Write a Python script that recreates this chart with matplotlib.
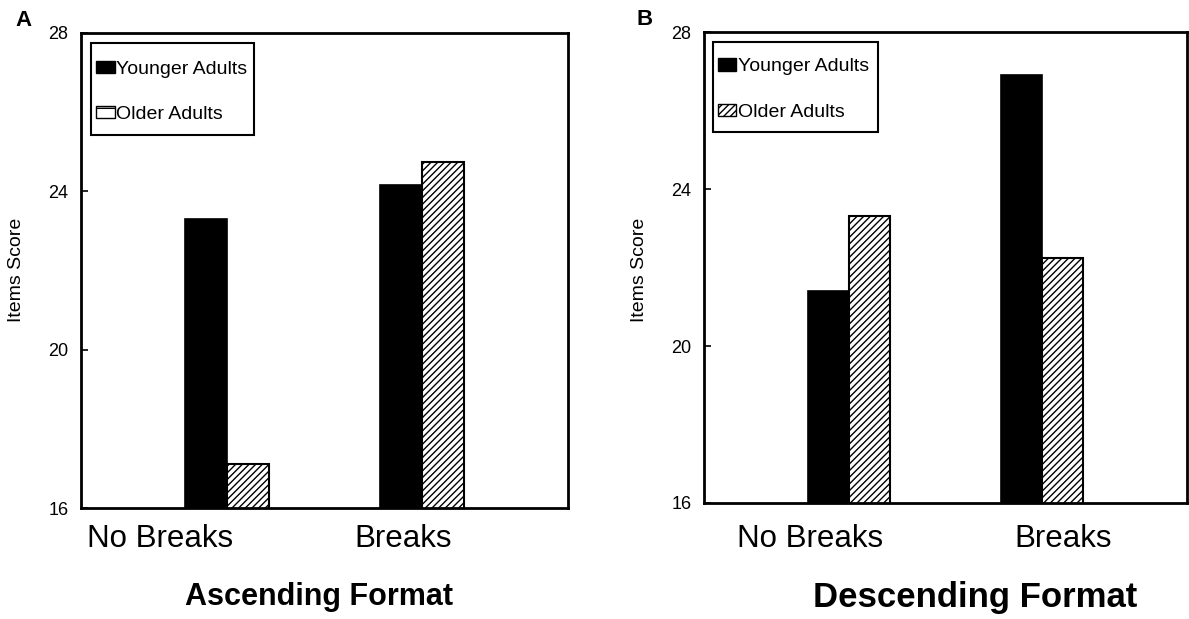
import matplotlib
matplotlib.use("Agg")
import matplotlib.pyplot as plt
from matplotlib.patches import Patch, Rectangle
import numpy as np

plt.rcParams['font.family'] = ['Liberation Sans', 'DejaVu Sans']
plt.rcParams['hatch.linewidth'] = 1.0

# ---- data ----
conditions = ['No Breaks', 'Breaks']
series_names = ['Younger Adults', 'Older Adults']
asc_young = [23.3, 24.15]
asc_older = [17.1, 24.75]
desc_young = [21.4, 26.9]
desc_older = [23.3, 22.25]

y_ticks = [16, 20, 24, 28]

fig = plt.figure(figsize=(11.89, 6.19), dpi=100)
fig.patch.set_facecolor('white')

ax_a = fig.add_axes([0.0681, 0.1793, 0.4096, 0.7674])
ax_b = fig.add_axes([0.5921, 0.1874, 0.4062, 0.7609])

# per panel: axes, data, legend hatch, category label x / y (axes frac),
# y-label x (fig frac), legend anchor, legend box (x0, y0, x1, y1 in axes frac)
panels = [
    (ax_a, asc_young, asc_older, '-', [0.162, 0.661], -0.066, 0.0135,
     (0.031, 0.942), (0.0205, 0.785, 0.355, 0.979)),
    (ax_b, desc_young, desc_older, '/////', [0.219, 0.743], -0.076, 0.5375,
     (0.029, 0.944), (0.0186, 0.788, 0.360, 0.979)),
]

width = 0.214
x = np.arange(1, len(conditions) + 1)

for ax, young, older, leg_hatch, lab_pos, lab_y, ylab_x, leg_anchor, box in panels:
    ax.bar(x - width / 2, young, width, color='black', edgecolor='black', linewidth=1.2)
    ax.bar(x + width / 2, older, width, color='white', edgecolor='black',
           hatch='/////', linewidth=1.5)

    ax.set_ylim(16, 28)
    ax.set_xlim(0.25, 2.75)
    ax.set_yticks(y_ticks)
    ax.set_yticklabels([str(t) for t in y_ticks], fontsize=13)
    ax.tick_params(axis='y', direction='in', length=5, width=1.2, pad=9)
    ax.set_xticks([])
    for sp in ax.spines.values():
        sp.set_linewidth(2)
    ax.set_ylabel('Items Score', fontsize=14)
    ax.yaxis.set_label_coords(ylab_x, 0.564, transform=fig.transFigure)
    ax.yaxis.label.set_va('center')

    # category labels under the axes (offset from the bar groups as in the original)
    for name, px in zip(conditions, lab_pos):
        ax.text(px, lab_y, name, transform=ax.transAxes, ha='center', va='center',
                fontsize=22.5)

    # legend frame drawn separately so the padding can differ in x and y
    ax.add_patch(Rectangle((box[0], box[1]), box[2] - box[0], box[3] - box[1],
                           transform=ax.transAxes, facecolor='white',
                           edgecolor='black', linewidth=1.5, zorder=4))
    handles = [Patch(facecolor='black', edgecolor='black', label=series_names[0]),
               Patch(facecolor='white', edgecolor='black', hatch=leg_hatch,
                     label=series_names[1])]
    leg = ax.legend(handles=handles, loc='upper left', bbox_to_anchor=leg_anchor,
                    borderaxespad=0, borderpad=0, fontsize=14, frameon=False,
                    handlelength=0.95, handleheight=0.6, handletextpad=0.1,
                    labelspacing=1.45)
    leg.set_zorder(5)

fig.text(0.020, 0.967, 'A', fontsize=16, fontweight='bold', ha='center', va='center')
fig.text(0.5425, 0.968, 'B', fontsize=16, fontweight='bold', ha='center', va='center')
fig.text(0.268, 0.0355, 'Ascending Format', fontsize=22, fontweight='bold',
         ha='center', va='center')
fig.text(0.820, 0.0355, 'Descending Format', fontsize=25, fontweight='bold',
         ha='center', va='center')

fig.savefig('out.png', dpi=100, facecolor='white')
